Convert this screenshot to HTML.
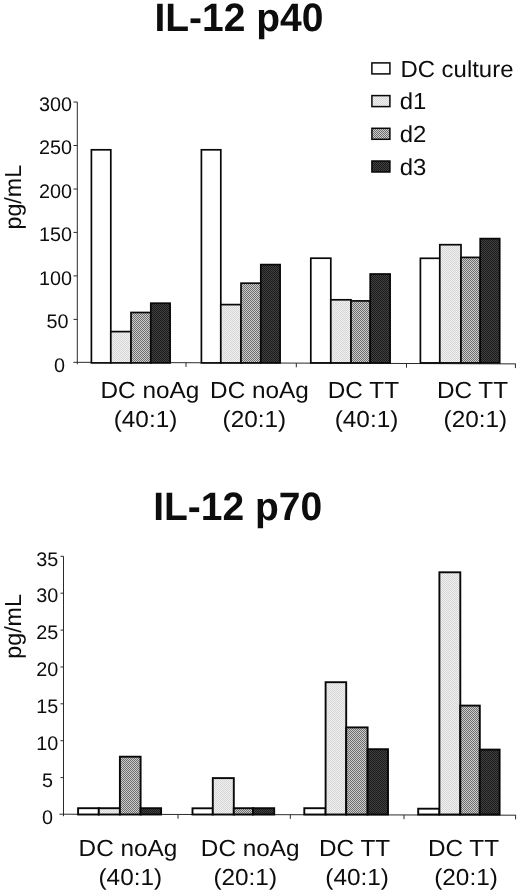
<!DOCTYPE html>
<html lang="en">
<head>
<meta charset="utf-8">
<title>IL-12 p40 / IL-12 p70</title>
<style>
html,body{margin:0;padding:0;background:#fff;}
body{width:520px;height:894px;overflow:hidden;}
svg{display:block;will-change:transform;filter:grayscale(1);}
text{font-family:"Liberation Sans", sans-serif;fill:#0d0d0d;text-rendering:geometricPrecision;}
.t{font-weight:bold;font-size:39.6px;}
.l{font-size:23.2px;}
.k{font-size:19.8px;}
.ax{stroke:#2a2a2a;stroke-width:1;fill:none;}
.b{stroke:#080808;stroke-width:1.7;}
.c{stroke:#080808;stroke-width:1.9;}
.g{stroke:#080808;stroke-width:1.5;}
</style>
</head>
<body>
<svg width="520" height="894" viewBox="0 0 520 894">
<defs>
<pattern id="p1" width="2" height="2" patternUnits="userSpaceOnUse"><rect width="2" height="2" fill="#f0f0f0"/><rect width="1" height="1" fill="#d6d6d6"/><rect x="1" y="1" width="1" height="1" fill="#d6d6d6"/></pattern>
<pattern id="p2" width="2" height="2" patternUnits="userSpaceOnUse"><rect width="2" height="2" fill="#cccccc"/><rect width="1" height="1" fill="#6e6e6e"/><rect x="1" y="1" width="1" height="1" fill="#6e6e6e"/></pattern>
<pattern id="p3" width="2" height="2" patternUnits="userSpaceOnUse"><rect width="2" height="2" fill="#424242"/><rect width="1" height="1" fill="#1a1a1a"/><rect x="1" y="1" width="1" height="1" fill="#1a1a1a"/></pattern>
</defs>
<rect width="520" height="894" fill="#fff"/>
<text class="t" transform="translate(238.90 31.20) scale(0.985 1)" text-anchor="middle">IL-12 p40</text>
<text class="t" transform="translate(237.70 520.00) scale(0.985 1)" text-anchor="middle">IL-12 p70</text>
<rect class="g" x="371.9" y="62.9" width="18" height="11" fill="#fff"/>
<text class="l" transform="translate(400.40 76.50) scale(1.032 1)" text-anchor="start">DC culture</text>
<rect class="g" x="371.9" y="95.6" width="18" height="11" fill="url(#p1)"/>
<text class="l" transform="translate(399.80 109.30) scale(1.032 1)" text-anchor="start">d1</text>
<rect class="g" x="371.9" y="128.3" width="18" height="11" fill="url(#p2)"/>
<text class="l" transform="translate(399.80 142.10) scale(1.032 1)" text-anchor="start">d2</text>
<rect class="g" x="371.9" y="161.0" width="18" height="11" fill="url(#p3)"/>
<text class="l" transform="translate(399.80 174.90) scale(1.032 1)" text-anchor="start">d3</text>
<text class="l" transform="translate(21.00 197.20) rotate(-90) scale(1.005 1)" text-anchor="middle">pg/mL</text>
<text class="l" transform="translate(20.80 626.40) rotate(-90) scale(1.005 1)" text-anchor="middle">pg/mL</text>
<path class="ax" d="M77.3 102.0V364.3M73.3 362.3L515.9 363.9"/>
<path class="ax" d="M77.3 319.4h-3.8M77.3 275.9h-3.8M77.3 232.4h-3.8M77.3 189.0h-3.8M77.3 145.5h-3.8M77.3 102.0h-3.8M186.0 362.7v4.2M296.3 363.1v4.2M406.5 363.5v4.2M515.4 363.9v4.2"/>
<text class="k" transform="translate(64.90 371.60)" text-anchor="end">0</text>
<text class="k" transform="translate(68.40 328.12)" text-anchor="end">50</text>
<text class="k" transform="translate(72.00 284.63)" text-anchor="end">100</text>
<text class="k" transform="translate(72.00 241.15)" text-anchor="end">150</text>
<text class="k" transform="translate(72.00 197.67)" text-anchor="end">200</text>
<text class="k" transform="translate(72.00 154.18)" text-anchor="end">250</text>
<text class="k" transform="translate(72.00 110.70)" text-anchor="end">300</text>
<rect class="b" x="91.4" y="149.8" width="19.4" height="213.1" fill="#fff"/>
<rect class="b" x="110.8" y="331.6" width="20.2" height="31.3" fill="url(#p1)"/>
<rect class="b" x="131.0" y="312.5" width="19.8" height="50.4" fill="url(#p2)"/>
<rect class="b" x="150.8" y="303.2" width="19.3" height="59.7" fill="url(#p3)"/>
<rect class="b" x="201.4" y="149.8" width="19.4" height="213.1" fill="#fff"/>
<rect class="b" x="220.8" y="304.6" width="20.2" height="58.3" fill="url(#p1)"/>
<rect class="b" x="241.0" y="283.2" width="19.8" height="79.7" fill="url(#p2)"/>
<rect class="b" x="260.8" y="264.6" width="19.3" height="98.3" fill="url(#p3)"/>
<rect class="b" x="310.8" y="258.2" width="20.0" height="104.7" fill="#fff"/>
<rect class="b" x="330.8" y="299.8" width="20.2" height="63.1" fill="url(#p1)"/>
<rect class="b" x="351.0" y="300.9" width="19.2" height="62.0" fill="url(#p2)"/>
<rect class="b" x="370.2" y="274.0" width="19.9" height="88.9" fill="url(#p3)"/>
<rect class="b" x="420.4" y="258.3" width="19.4" height="104.6" fill="#fff"/>
<rect class="b" x="439.8" y="244.7" width="21.2" height="118.2" fill="url(#p1)"/>
<rect class="b" x="461.0" y="257.4" width="19.2" height="105.5" fill="url(#p2)"/>
<rect class="b" x="480.2" y="238.6" width="19.5" height="124.3" fill="url(#p3)"/>
<text class="l" transform="translate(149.90 398.20) scale(1.050 1)" text-anchor="middle">DC noAg</text>
<text class="l" transform="translate(145.50 427.30) scale(1.050 1)" text-anchor="middle">(40:1)</text>
<text class="l" transform="translate(259.50 398.20) scale(1.050 1)" text-anchor="middle">DC noAg</text>
<text class="l" transform="translate(254.40 427.30) scale(1.050 1)" text-anchor="middle">(20:1)</text>
<text class="l" transform="translate(363.40 398.20) scale(1.050 1)" text-anchor="middle">DC TT</text>
<text class="l" transform="translate(366.50 427.30) scale(1.050 1)" text-anchor="middle">(40:1)</text>
<text class="l" transform="translate(472.50 398.20) scale(1.050 1)" text-anchor="middle">DC TT</text>
<text class="l" transform="translate(475.40 427.30) scale(1.050 1)" text-anchor="middle">(20:1)</text>
<path class="ax" d="M63.5 556.3V816.2M59.5 814.2L516.1 815.2"/>
<path class="ax" d="M63.5 777.6h-3.0M63.5 740.7h-3.0M63.5 703.8h-3.0M63.5 667.0h-3.0M63.5 630.1h-3.0M63.5 593.2h-3.0M63.5 556.3h-3.0M178.0 814.5v4.2M290.3 814.7v4.2M404.0 815.0v4.2M515.6 815.2v4.2"/>
<text class="k" transform="translate(53.00 823.80)" text-anchor="end">0</text>
<text class="k" transform="translate(53.00 786.91)" text-anchor="end">5</text>
<text class="k" transform="translate(58.20 750.03)" text-anchor="end">10</text>
<text class="k" transform="translate(58.20 713.14)" text-anchor="end">15</text>
<text class="k" transform="translate(58.20 676.26)" text-anchor="end">20</text>
<text class="k" transform="translate(58.20 639.37)" text-anchor="end">25</text>
<text class="k" transform="translate(58.20 602.49)" text-anchor="end">30</text>
<text class="k" transform="translate(58.20 565.60)" text-anchor="end">35</text>
<rect class="c" x="78.1" y="808.2" width="20.7" height="6.3" fill="#fff"/>
<rect class="c" x="98.8" y="808.2" width="21.1" height="6.3" fill="url(#p1)"/>
<rect class="c" x="119.9" y="756.7" width="20.7" height="57.8" fill="url(#p2)"/>
<rect class="c" x="140.6" y="808.2" width="20.5" height="6.3" fill="url(#p3)"/>
<rect class="c" x="192.5" y="808.3" width="20.3" height="6.2" fill="#fff"/>
<rect class="c" x="212.8" y="778.1" width="21.0" height="36.4" fill="url(#p1)"/>
<rect class="c" x="233.8" y="808.2" width="19.2" height="6.3" fill="url(#p2)"/>
<rect class="c" x="253.0" y="808.2" width="21.2" height="6.3" fill="url(#p3)"/>
<rect class="c" x="304.3" y="808.2" width="21.3" height="6.3" fill="#fff"/>
<rect class="c" x="325.6" y="682.2" width="20.6" height="132.3" fill="url(#p1)"/>
<rect class="c" x="346.2" y="727.4" width="21.4" height="87.1" fill="url(#p2)"/>
<rect class="c" x="367.6" y="749.2" width="20.4" height="65.3" fill="url(#p3)"/>
<rect class="c" x="418.2" y="808.7" width="21.2" height="5.8" fill="#fff"/>
<rect class="c" x="439.4" y="572.3" width="20.9" height="242.2" fill="url(#p1)"/>
<rect class="c" x="460.3" y="705.6" width="19.5" height="108.9" fill="url(#p2)"/>
<rect class="c" x="479.8" y="749.6" width="19.8" height="64.9" fill="url(#p3)"/>
<text class="l" transform="translate(128.00 856.40) scale(1.050 1)" text-anchor="middle">DC noAg</text>
<text class="l" transform="translate(130.30 884.90) scale(1.050 1)" text-anchor="middle">(40:1)</text>
<text class="l" transform="translate(250.20 856.40) scale(1.050 1)" text-anchor="middle">DC noAg</text>
<text class="l" transform="translate(245.20 884.90) scale(1.050 1)" text-anchor="middle">(20:1)</text>
<text class="l" transform="translate(354.60 856.40) scale(1.050 1)" text-anchor="middle">DC TT</text>
<text class="l" transform="translate(357.10 884.90) scale(1.050 1)" text-anchor="middle">(40:1)</text>
<text class="l" transform="translate(463.50 856.40) scale(1.050 1)" text-anchor="middle">DC TT</text>
<text class="l" transform="translate(466.00 884.90) scale(1.050 1)" text-anchor="middle">(20:1)</text>
</svg>
</body>
</html>
